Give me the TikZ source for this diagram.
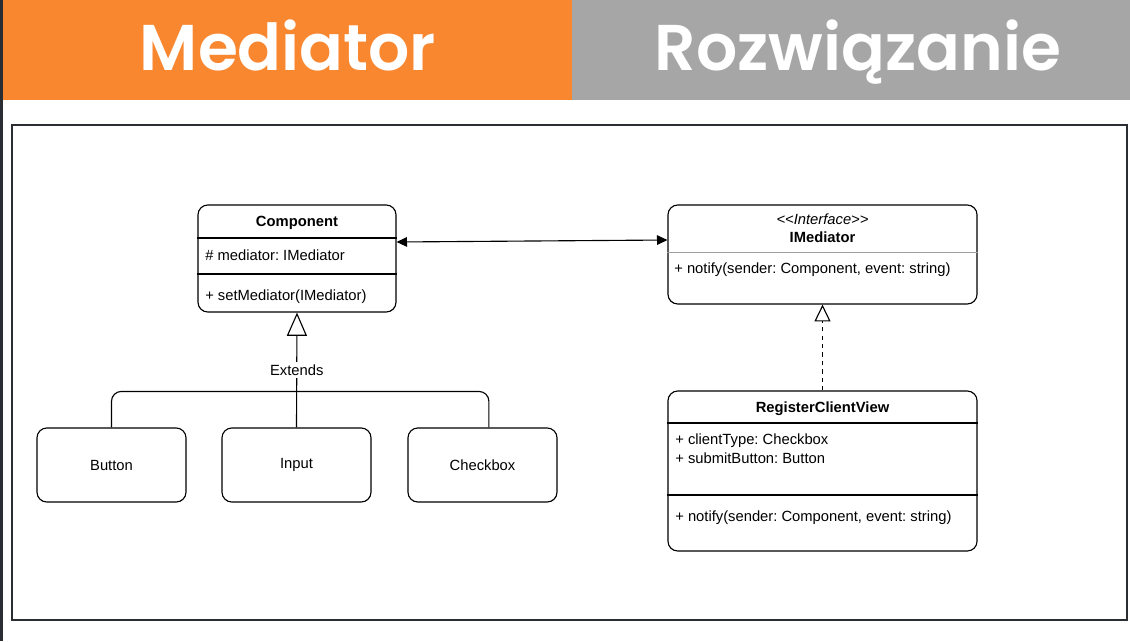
\documentclass[tikz,border=0pt]{standalone}
\usepackage{fontspec}
\setmainfont{Liberation Sans}
\newfontfamily\naglowek{Poppins}[FontFace={sb}{n}{Font=* SemiBold}]
\usetikzlibrary{arrows.meta,positioning,calc}
\definecolor{mediatororange}{RGB}{249,135,48}
\definecolor{naglowekgray}{RGB}{166,166,166}
\definecolor{ramkagray}{RGB}{42,46,51}
\definecolor{liniagray}{RGB}{160,160,160}
\newcommand{\diagfont}{\fontsize{10.5}{12.6}\selectfont}
\frenchspacing
\tikzset{klasa/.style={draw=black,line width=0.8pt,rounded corners=7pt,fill=white},
  wiersz/.style={anchor=west,inner sep=0pt,font=\diagfont},
  tytul/.style={inner sep=0pt,font=\diagfont\bfseries},
  naglowek/.style={text=white,anchor=base,inner sep=0pt,font=\naglowek\fontsize{46}{50}\fontseries{sb}\selectfont},
  asocjacja/.style={draw=black,line width=0.8pt,{Triangle[length=2.6mm,width=2.4mm]}-{Triangle[length=2.6mm,width=2.4mm]}},
  dziedziczenie/.style={draw=black,line width=0.8pt,-{Triangle[open,length=5.8mm,width=5mm]}},
  galaz/.style={draw=black,line width=0.8pt,rounded corners=7pt},
  realizacja/.style={draw=black,line width=0.8pt,dashed,-{Triangle[open,length=4.2mm,width=4mm]}},
  edge-label/.style={fill=white,inner sep=1.5pt,font=\diagfont,midway}}

\begin{document}
\begin{tikzpicture}[x=0.025cm,y=-0.025cm]
\useasboundingbox (0,0) rectangle (1130,641);

% naglowek
\fill[mediatororange] (3,0) rectangle (572,100);
\fill[naglowekgray] (572,0) rectangle (1130,100);
\fill[ramkagray] (0,0) rectangle (3,641);
\node[naglowek] (tytulL) at (288,70) {Mediator};
\node[naglowek] (tytulR) at (858,70) {Rozwiązanie};

% ramka
\draw[ramkagray,line width=1.2pt] (12,125) rectangle (1127,620);

% Component
\node[klasa,minimum width=4.95cm,minimum height=2.675cm] (comp) at (297,258.5) {};
\draw[line width=0.8pt] (comp.west |- 0,238) -- (comp.east |- 0,238);
\draw[line width=0.8pt] (comp.west |- 0,274) -- (comp.east |- 0,274);
\node[tytul] (compT) at (297,223) {Component};
\node[wiersz] (compA) at (205,255) {\# mediator: IMediator};
\node[wiersz] (compM) at (205,297) {+ setMediator(IMediator)};

% IMediator
\node[klasa,minimum width=7.725cm,minimum height=2.475cm] (imed) at (822.5,254.5) {};
\draw[liniagray,line width=0.6pt] (imed.west |- 0,252) -- (imed.east |- 0,252);
\node[inner sep=0pt,font=\diagfont\itshape] (imedS) at (822.5,219) {<{}<Interface>{}>};
\node[tytul] (imedT) at (822.5,237) {IMediator};
\node[wiersz] (imedM) at (674,270) {+ notify(sender: Component, event: string)};

% RegisterClientView
\node[klasa,minimum width=7.725cm,minimum height=4cm] (rcv) at (822.5,471) {};
\draw[line width=0.8pt] (rcv.west |- 0,423) -- (rcv.east |- 0,423);
\draw[line width=0.8pt] (rcv.west |- 0,495) -- (rcv.east |- 0,495);
\node[tytul] (rcvT) at (822.5,409) {RegisterClientView};
\node[wiersz] (rcvA) at (675,441) {+ clientType: Checkbox};
\node[wiersz] (rcvB) at (675,458) {+ submitButton: Button};
\node[wiersz] (rcvM) at (675,518) {+ notify(sender: Component, event: string)};

% komponenty
\node[klasa,minimum width=3.725cm,minimum height=1.85cm,font=\diagfont] (btn) at (111.5,465) {Button};
\node[klasa,minimum width=3.725cm,minimum height=1.85cm,font=\diagfont] (inp) at (296.5,465) {Input};
\node[klasa,minimum width=3.725cm,minimum height=1.85cm,font=\diagfont] (chk) at (482.5,465) {Checkbox};

% polaczenia
\draw[asocjacja] ([yshift=0.4125cm]comp.east) -- ([yshift=0.3625cm]imed.west);
\draw[galaz] (btn.north) |- ($(inp.north)+(0,-36)$) -| ([xshift=0.16cm]chk.north);
\draw[dziedziczenie] (inp.north) -- node[edge-label,pos=0.5] {Extends} (comp.south);
\draw[realizacja] (rcv.north) -- (imed.south);

\end{tikzpicture}
\end{document}
